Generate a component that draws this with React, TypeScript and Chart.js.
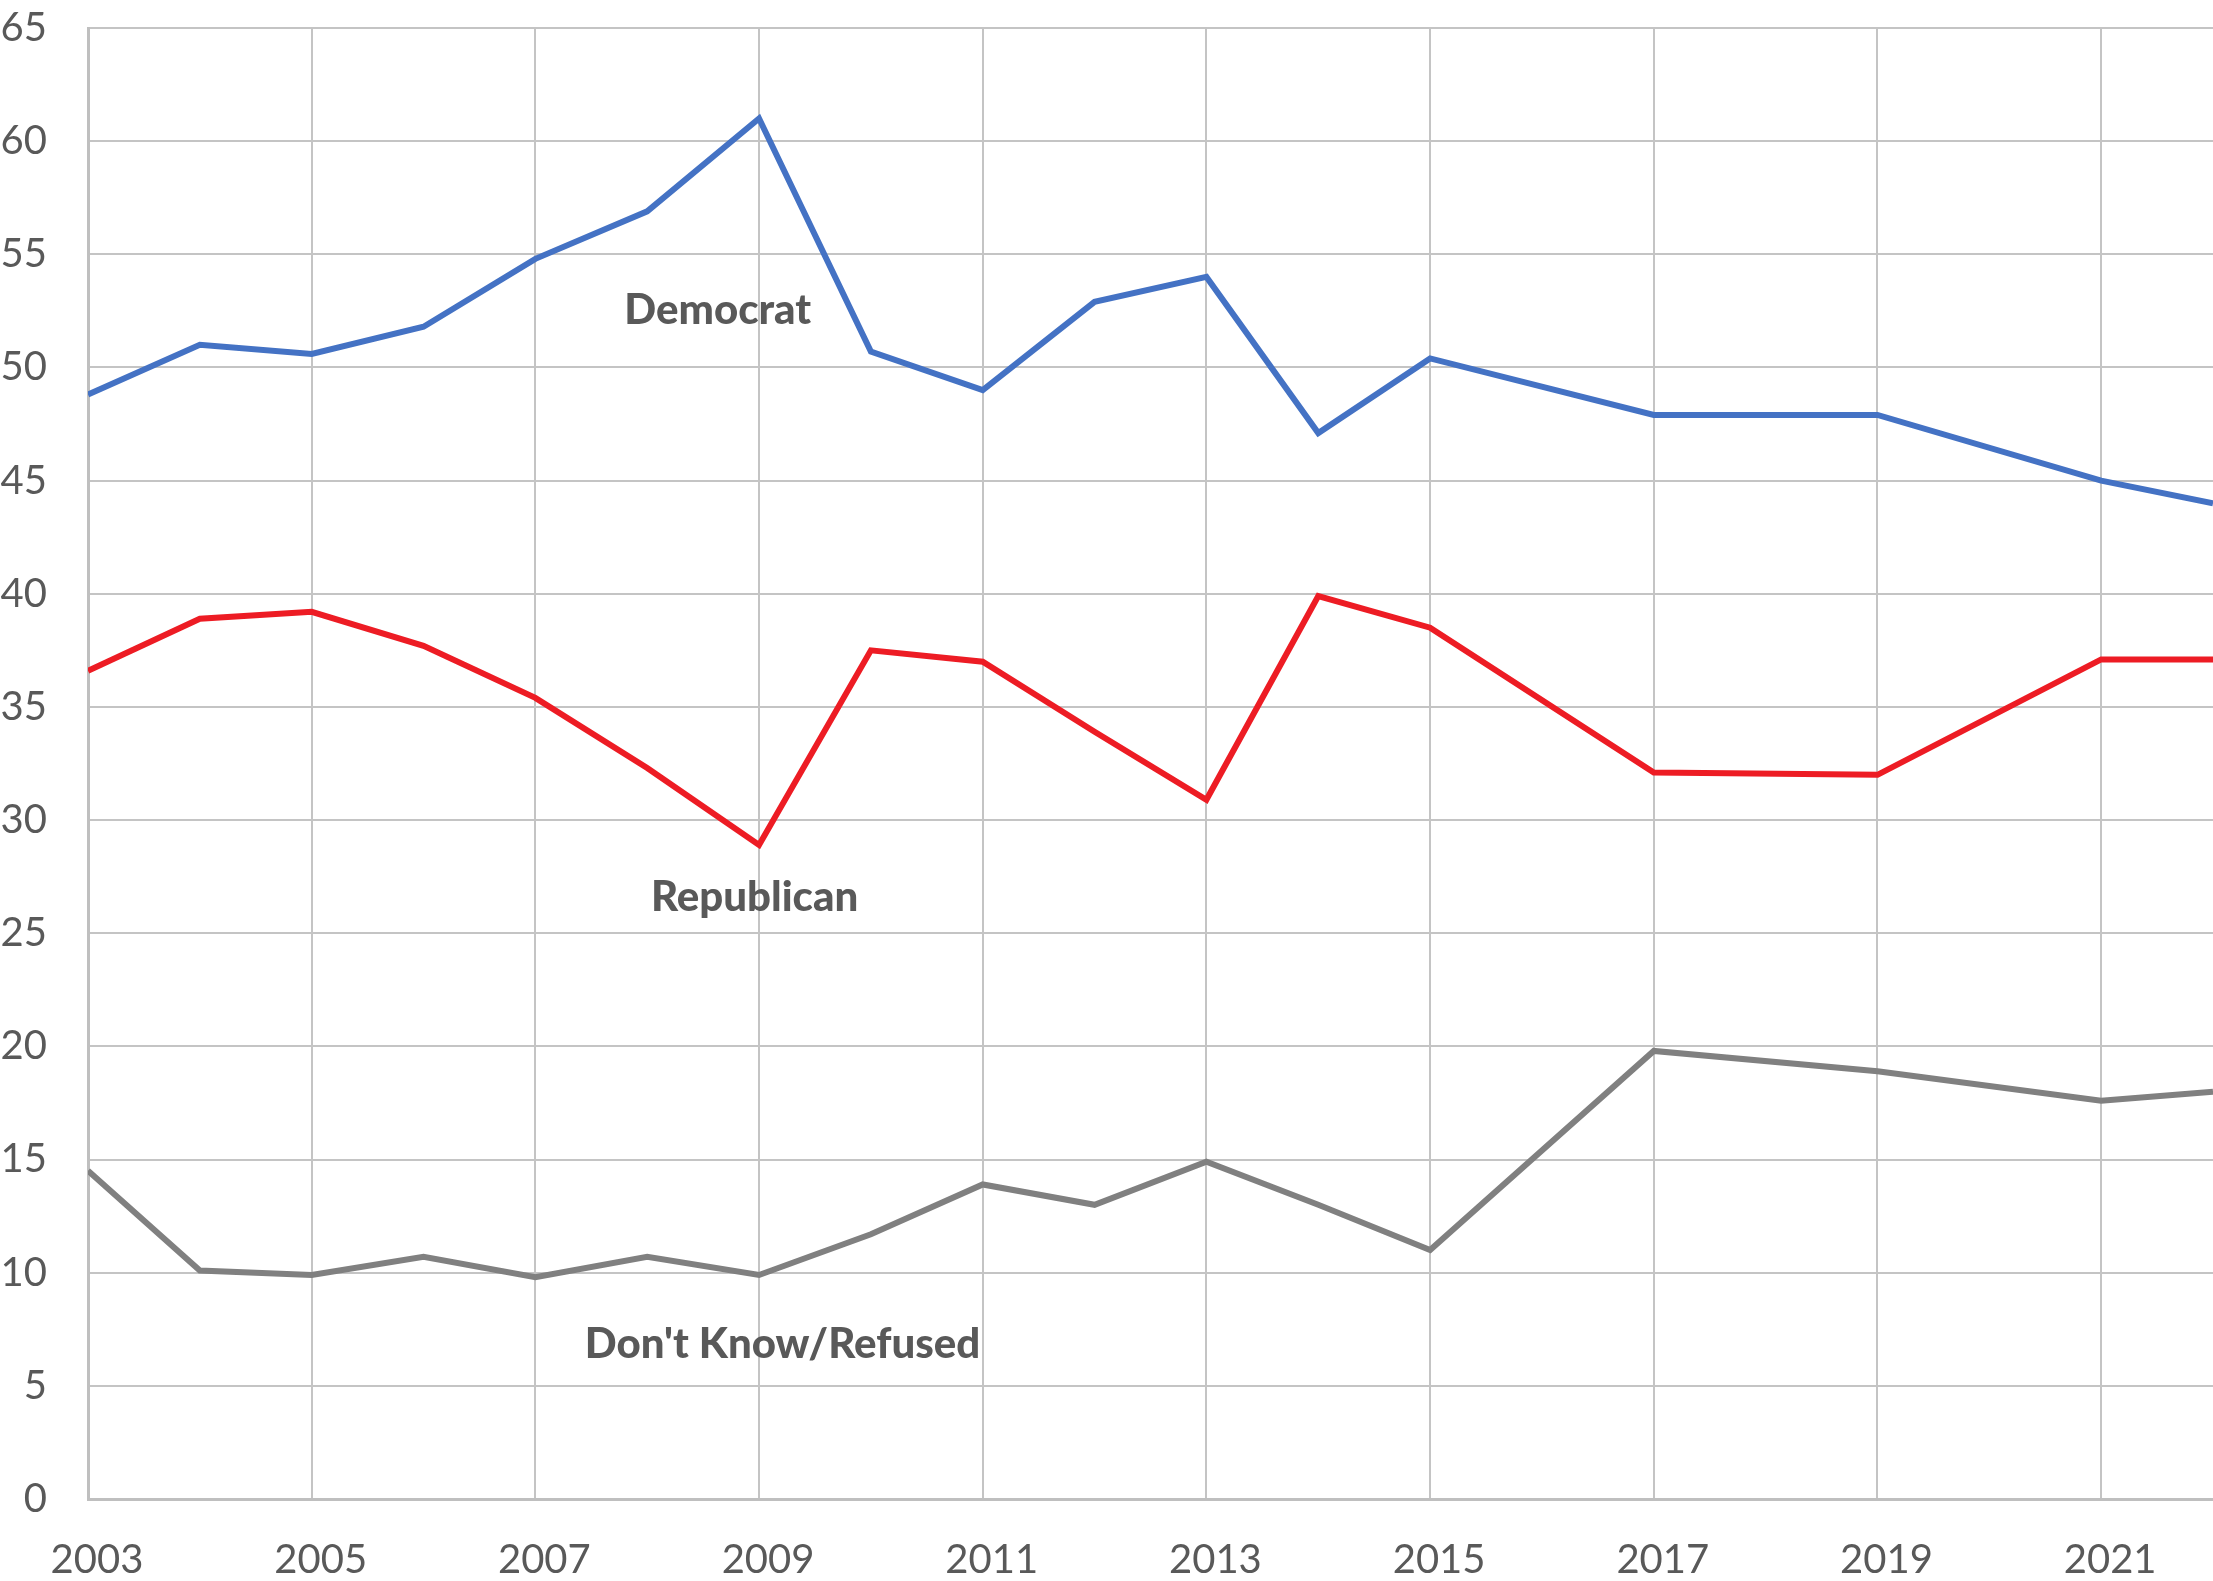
import React, { useEffect, useRef } from "react";
import { Chart, registerables } from "chart.js";

Chart.register(...registerables);

const years = [2003, 2004, 2005, 2006, 2007, 2008, 2009, 2010, 2011, 2012, 2013, 2014, 2015, 2017, 2019, 2021, 2022];
const democrat = [48.8, 51.0, 50.6, 51.8, 54.8, 56.9, 61.0, 50.7, 49.0, 52.9, 54.0, 47.1, 50.4, 47.9, 47.9, 45.0, 44.0];
const republican = [36.6, 38.9, 39.2, 37.7, 35.4, 32.3, 28.9, 37.5, 37.0, 33.9, 30.9, 39.9, 38.5, 32.1, 32.0, 37.1, 37.1];
const dontKnow = [14.5, 10.1, 9.9, 10.7, 9.8, 10.7, 9.9, 11.7, 13.9, 13.0, 14.9, 13.0, 11.0, 19.8, 18.9, 17.6, 18.0];
const xTickYears = [2003, 2005, 2007, 2009, 2011, 2013, 2015, 2017, 2019, 2021];
const seriesNames = ["Democrat", "Republican", "Don't Know/Refused"];
const seriesColors = ["#4472C4", "#ED1C24", "#808080"];
// label anchor positions in data units (x = year, y = value)
const labelX = [2008.63, 2008.96, 2009.21];
const labelY = [52.5, 26.6, 6.85];

const FONT = "Lato, 'DejaVu Sans', sans-serif";

const seriesLabelPlugin = {
  id: "seriesLabels",
  afterDatasetsDraw(chart: any) {
    const ctx = chart.ctx;
    const xs = chart.scales.x;
    const ys = chart.scales.y;
    ctx.save();
    ctx.font = `900 42px ${FONT}`;
    ctx.fillStyle = "#595959";
    ctx.textAlign = "center";
    ctx.textBaseline = "middle";
    seriesNames.forEach((name, i) => {
      ctx.fillText(name, xs.getPixelForValue(labelX[i]), ys.getPixelForValue(labelY[i]));
    });
    ctx.restore();
  },
};

export default function App() {
  const canvasRef = useRef<HTMLCanvasElement | null>(null);

  useEffect(() => {
    if (!canvasRef.current) return;
    const mk = (vals: number[]) => years.map((y, i) => ({ x: y, y: vals[i] }));
    const data = [democrat, republican, dontKnow];
    const chart = new Chart(canvasRef.current, {
      type: "line",
      data: {
        datasets: data.map((vals, i) => ({
          label: seriesNames[i],
          data: mk(vals),
          borderColor: seriesColors[i],
          backgroundColor: seriesColors[i],
          borderWidth: 6,
          pointRadius: 0,
          tension: 0,
          fill: false,
        })),
      },
      options: {
        animation: false,
        responsive: false,
        layout: { padding: { top: 28, right: 0, left: 0, bottom: 0 } },
        plugins: {
          legend: { display: false },
          tooltip: { enabled: false },
        },
        scales: {
          x: {
            type: "linear",
            min: 2003,
            max: 2022,
            afterBuildTicks: (scale: any) => {
              scale.ticks = xTickYears.map((v) => ({ value: v }));
            },
            afterFit: (scale: any) => {
              scale.height = 82;
              scale.paddingLeft = 0;
              scale.paddingRight = 0;
            },
            grid: { color: "#c4c4c4", lineWidth: 2, drawTicks: false },
            border: { color: "#bfbfbf", width: 3 },
            ticks: {
              color: "#595959",
              font: { family: FONT, size: 40 },
              padding: 37,
              labelOffset: 9,
              maxRotation: 0,
              autoSkip: false,
              callback: (v: any) => String(v),
            },
          },
          y: {
            min: 0,
            max: 65,
            afterFit: (scale: any) => {
              scale.width = 88;
              scale.paddingTop = 0;
              scale.paddingBottom = 0;
            },
            grid: { color: "#c4c4c4", lineWidth: 2, drawTicks: false },
            border: { color: "#bfbfbf", width: 3 },
            ticks: {
              stepSize: 5,
              color: "#595959",
              font: { family: FONT, size: 40 },
              padding: 41,
            },
          },
        },
      },
      plugins: [seriesLabelPlugin],
    });
    return () => chart.destroy();
  }, []);

  return (
    <div style={{ position: "fixed", left: 0, top: 0, width: 2213, height: 1581, background: "#fff" }}>
      <canvas ref={canvasRef} width={2213} height={1581} style={{ display: "block" }} />
    </div>
  );
}
